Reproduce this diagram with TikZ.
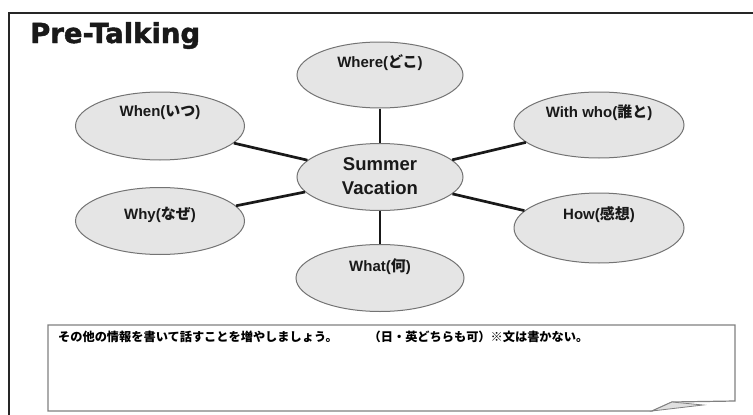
\documentclass[tikz,border=0pt]{standalone}
\usepackage{fontspec}
\setmainfont{Liberation Sans}
\newfontfamily\cjk{Noto Sans CJK JP}
\newfontfamily\titlefont{DejaVu Sans}[BoldFeatures={FakeBold=1.6}]
\usetikzlibrary{shapes.geometric}
\newcommand{\jp}[1]{{\cjk\bfseries #1}}
\tikzset{
  bubble/.style={ellipse, draw=black!55, line width=1pt, fill=black!10, inner sep=0pt},
  lbl/.style={font=\bfseries\fontsize{15}{17}\selectfont, inner sep=0pt, text=black!90},
  conn/.style={line width=2.7pt, black!90},
}
\begin{document}
\begin{tikzpicture}[x=1pt,y=-1pt]
\useasboundingbox (0,0) rectangle (753,415);
% outer frame
\draw[line width=2pt, black!85] (9,420) -- (9,13) -- (760,13);
% title
\node[anchor=base west, inner sep=0pt, font=\titlefont\bfseries\fontsize{27.5}{30}\selectfont, text=black!90] (title) at (30,43) {Pre-Talking};
% bubbles
\node[bubble, minimum width=166pt, minimum height=66pt] (where) at (380,75) {};
\node[bubble, minimum width=166pt, minimum height=67pt] (center) at (380,177) {};
\node[bubble, minimum width=168pt, minimum height=67pt] (what) at (380,278) {};
\node[bubble, minimum width=169pt, minimum height=68pt] (when) at (160,126) {};
\node[bubble, minimum width=169pt, minimum height=67pt] (why) at (160,221) {};
\node[bubble, minimum width=170pt, minimum height=66pt] (with) at (599,125) {};
\node[bubble, minimum width=170pt, minimum height=70pt] (how) at (599,228) {};
% connectors
\draw[conn] (where) -- (center);
\draw[conn] (center) -- (what);
\draw[conn] (when) -- (center);
\draw[conn] (why) -- (center);
\draw[conn] (with) -- (center);
\draw[conn] (how) -- (center);
% labels
\node[lbl] (twhere) at (380,63) {Where(\jp{どこ})};
\node[lbl, align=center, font=\bfseries\fontsize{18.5}{24}\selectfont] (tcenter) at (380,176) {Summer\\Vacation};
\node[lbl] (twhat) at (380,267) {What(\jp{何})};
\node[lbl] (twhen) at (160,113) {When(\jp{いつ})};
\node[lbl] (twhy) at (160,215) {Why(\jp{なぜ})};
\node[lbl] (twith) at (599,113) {With who(\jp{誰と})};
\node[lbl] (thow) at (599,215) {How(\jp{感想})};
% bottom note box
\draw[line width=1.2pt, black!50, fill=white] (48,325) -- (735,325) -- (735,401) -- (672,402) -- (652,411) -- (48,411) -- cycle;
\draw[line width=0.8pt, black!50, fill=black!12] (652,411) -- (672,402) -- (703,405) -- cycle;
\node[anchor=west, inner sep=0pt, font=\cjk\bfseries\fontsize{12.2}{14}\selectfont] (note) at (58,337) {その他の情報を書いて話すことを増やしましょう。\hspace{31pt}（日・英どちらも可）※文は書かない。};
\end{tikzpicture}
\end{document}
